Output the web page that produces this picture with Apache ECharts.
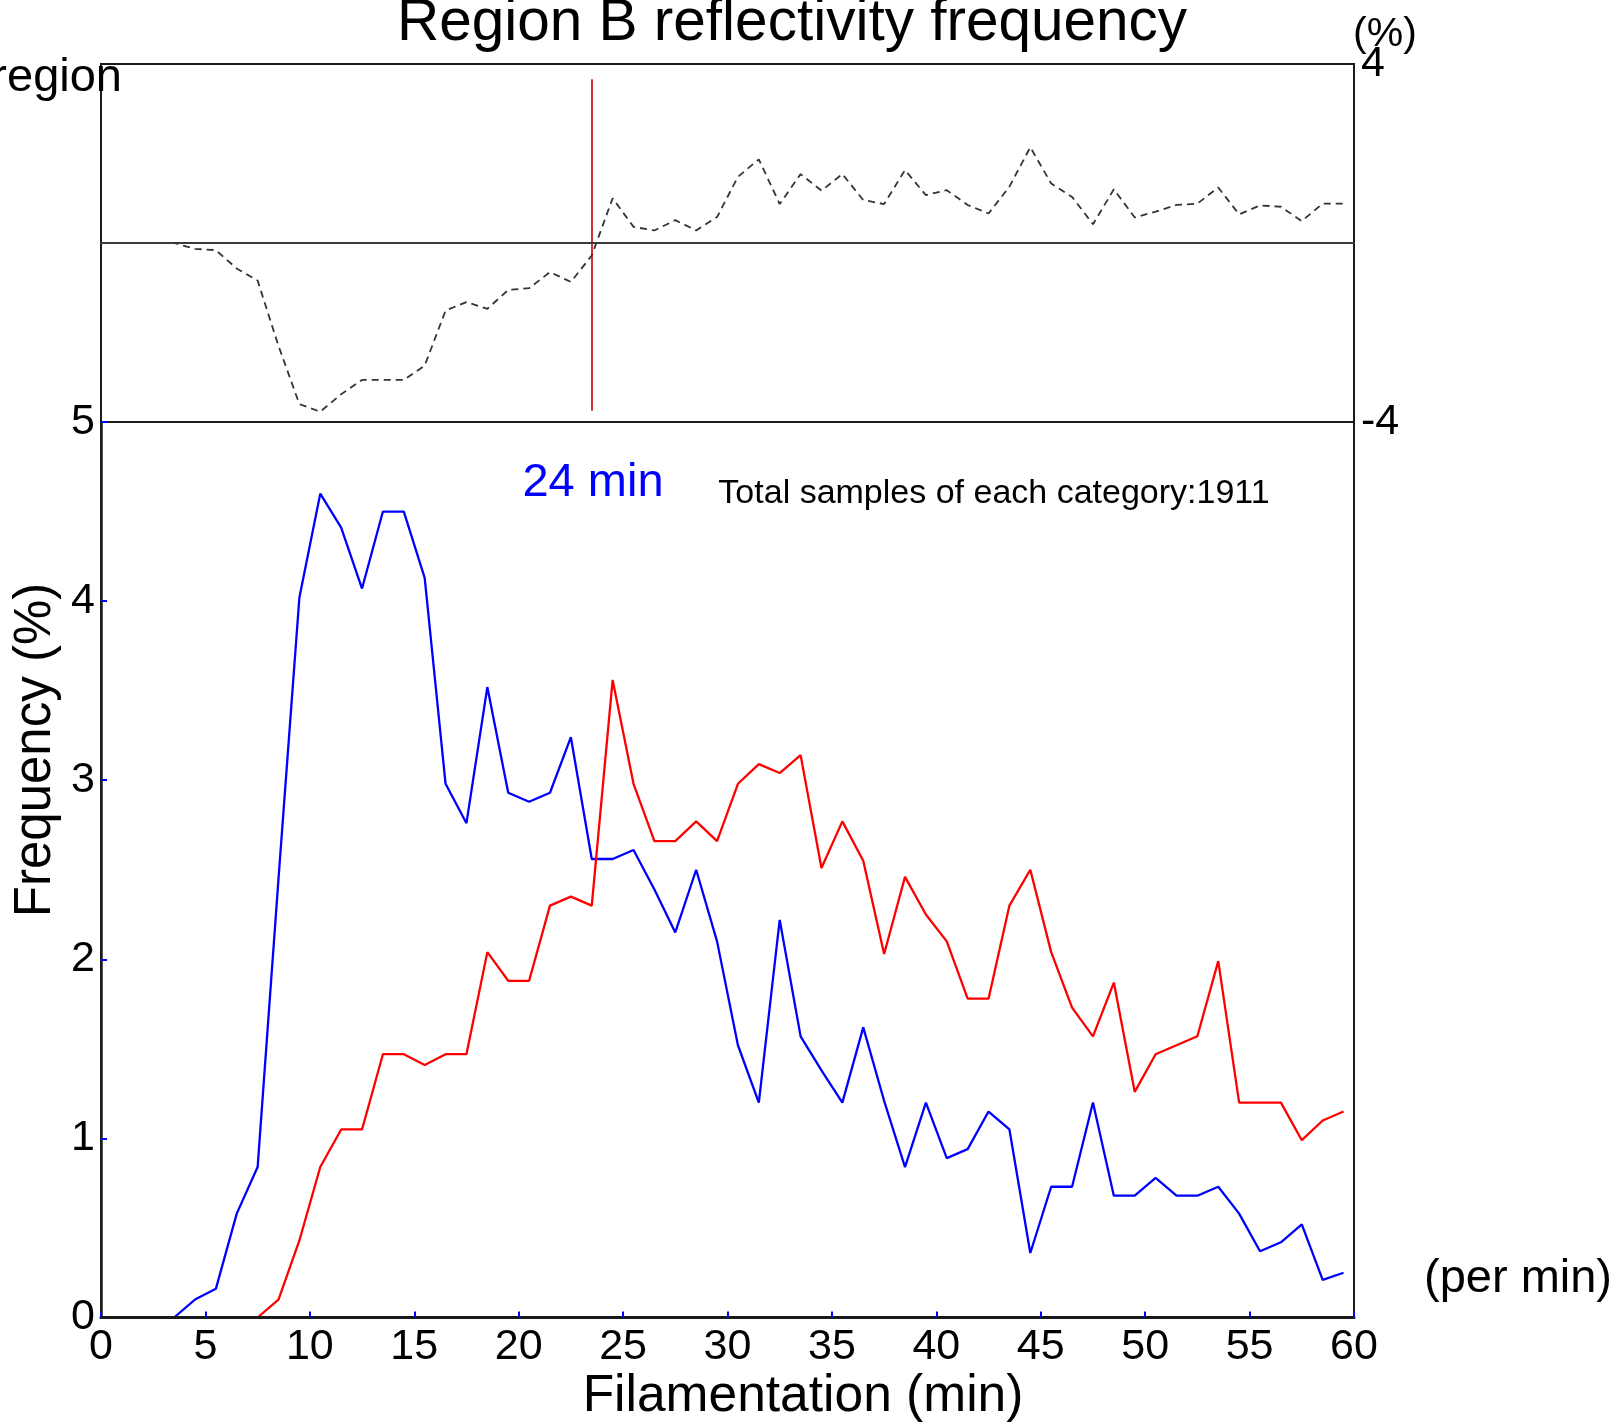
<!DOCTYPE html>
<html>
<head>
<meta charset="utf-8">
<title>Region B reflectivity frequency</title>
<script src="https://cdn.jsdelivr.net/npm/echarts@6/dist/echarts.min.js"></script>
<style>
  html, body { margin: 0; padding: 0; background: #ffffff; }
  #chart { width: 1618px; height: 1424px; }
</style>
</head>
<body>
<div id="chart"></div>
<script>
// Filamentation time bins (minutes 1..60), plotted at bin centres
const minutes = Array.from({ length: 60 }, (_, i) => i + 1);
const binCenters = minutes.map(m => m - 0.5);

// Frequency (%) per minute bin, blue category
const blueFreq = [0, 0, 0, 0, 0.10, 0.16, 0.58, 0.84, 2.45, 4.02,
  4.60, 4.41, 4.07, 4.50, 4.50, 4.13, 2.98, 2.76, 3.52, 2.93,
  2.88, 2.93, 3.24, 2.56, 2.56, 2.61, 2.39, 2.15, 2.50, 2.10,
  1.52, 1.20, 2.22, 1.57, 1.38, 1.20, 1.62, 1.21, 0.84, 1.20,
  0.89, 0.94, 1.15, 1.05, 0.36, 0.73, 0.73, 1.20, 0.68, 0.68,
  0.78, 0.68, 0.68, 0.73, 0.58, 0.37, 0.42, 0.52, 0.21, 0.25];

// Frequency (%) per minute bin, red category
const redFreq = [0, 0, 0, 0, 0, 0, 0, 0, 0.10, 0.43,
  0.84, 1.05, 1.05, 1.47, 1.47, 1.41, 1.47, 1.47, 2.04, 1.88,
  1.88, 2.30, 2.35, 2.30, 3.56, 2.98, 2.66, 2.66, 2.77, 2.66,
  2.98, 3.09, 3.04, 3.14, 2.51, 2.77, 2.55, 2.03, 2.46, 2.25,
  2.10, 1.78, 1.78, 2.30, 2.50, 2.04, 1.73, 1.57, 1.87, 1.26,
  1.47, 1.52, 1.57, 1.99, 1.20, 1.20, 1.20, 0.99, 1.10, 1.15];

// Difference curve (%) shown in the upper panel
const diffPct = [0, 0, 0, 0, -0.13, -0.16, -0.57, -0.84, -2.30, -3.60,
  -3.77, -3.38, -3.06, -3.06, -3.06, -2.74, -1.51, -1.32, -1.47, -1.05,
  -1.01, -0.65, -0.87, -0.28, 1.00, 0.36, 0.28, 0.51, 0.28, 0.58,
  1.48, 1.87, 0.87, 1.54, 1.17, 1.54, 0.96, 0.87, 1.63, 1.07,
  1.18, 0.85, 0.66, 1.26, 2.14, 1.33, 1.03, 0.42, 1.20, 0.57,
  0.70, 0.85, 0.88, 1.24, 0.64, 0.84, 0.81, 0.49, 0.88, 0.88];

// Crossover time and the vertical extent of its marker in the upper panel
const crossMinute = 24;
const crossX = crossMinute - 0.5;
const crossSpan = [3.66, -3.75];

const xTicks = { min: 0, max: 60, interval: 5 };
const freqTicks = { min: 0, max: 5, interval: 1 };
const diffTicks = { min: -4, max: 4, interval: 4 };

const FONT = '"Liberation Sans", Arial, Helvetica, sans-serif';
const BLUE = '#0000ff';
const RED = '#ff0000';
const FRAME = '#1a1a1a';
const TICK_FONT = 43;

const chart = echarts.init(document.getElementById('chart'), null, { renderer: 'canvas' });

const pairs = arr => binCenters.map((x, i) => [x, arr[i]]);

const option = {
  animation: false,
  backgroundColor: '#ffffff',
  grid: [
    { left: 101, width: 1253, top: 64, height: 358, show: true,
      borderColor: FRAME, borderWidth: 2, backgroundColor: 'transparent' },
    { left: 101, width: 1253, top: 422, height: 895.5, show: true,
      borderColor: FRAME, borderWidth: 2, backgroundColor: 'transparent' }
  ],
  xAxis: [
    { gridIndex: 0, type: 'value', min: xTicks.min, max: xTicks.max, interval: xTicks.interval,
      z: 5,
      axisLine: { show: true, onZero: true, onZeroAxisIndex: 0, lineStyle: { color: '#3a3a3a', width: 2 } },
      axisTick: { show: false }, axisLabel: { show: false }, splitLine: { show: false } },
    { gridIndex: 1, type: 'value', min: xTicks.min, max: xTicks.max, interval: xTicks.interval,
      z: 5,
      axisLine: { show: true, onZero: false, lineStyle: { color: FRAME, width: 3 } },
      axisTick: { show: true, inside: true, length: 6, lineStyle: { color: BLUE, width: 2 } },
      axisLabel: { color: '#000', fontSize: TICK_FONT, fontFamily: FONT, margin: 8 },
      splitLine: { show: false } }
  ],
  yAxis: [
    { gridIndex: 0, type: 'value', position: 'left',
      min: diffTicks.min, max: diffTicks.max, interval: diffTicks.interval,
      axisLine: { show: true, onZero: false, lineStyle: { color: FRAME, width: 2 } },
      axisTick: { show: true, inside: true, length: 6, customValues: [0], lineStyle: { color: BLUE, width: 2 } },
      axisLabel: { show: false }, splitLine: { show: false } },
    { gridIndex: 0, type: 'value', position: 'right',
      min: diffTicks.min, max: diffTicks.max, interval: diffTicks.interval,
      axisLine: { show: true, onZero: false, lineStyle: { color: FRAME, width: 2 } },
      axisTick: { show: false },
      axisLabel: { color: '#000', fontSize: TICK_FONT, fontFamily: FONT, margin: 7,
        formatter: v => (v === 0 ? '' : String(v)) },
      splitLine: { show: false } },
    { gridIndex: 1, type: 'value', position: 'left',
      min: freqTicks.min, max: freqTicks.max, interval: freqTicks.interval,
      axisLine: { show: true, onZero: false, lineStyle: { color: FRAME, width: 2.5 } },
      axisTick: { show: true, inside: true, length: 6, lineStyle: { color: BLUE, width: 2 } },
      axisLabel: { color: '#000', fontSize: TICK_FONT, fontFamily: FONT, margin: 6 },
      splitLine: { show: false } }
  ],
  series: [
    { name: 'difference', type: 'line', xAxisIndex: 0, yAxisIndex: 0,
      data: pairs(diffPct), symbol: 'none', z: 1,
      lineStyle: { color: '#333', width: 1.8, type: [7, 5] },
      markLine: {
        silent: true, symbol: 'none', label: { show: false },
        lineStyle: { color: '#c00000', width: 1.6, type: 'solid' },
        data: [[{ coord: [crossX, crossSpan[0]] }, { coord: [crossX, crossSpan[1]] }]]
      } },
    { name: 'blue', type: 'line', xAxisIndex: 1, yAxisIndex: 2,
      data: pairs(blueFreq), symbol: 'none', z: 2,
      lineStyle: { color: BLUE, width: 2.3 } },
    { name: 'red', type: 'line', xAxisIndex: 1, yAxisIndex: 2,
      data: pairs(redFreq), symbol: 'none', z: 2,
      lineStyle: { color: RED, width: 2.3 } }
  ],
  graphic: [
    { type: 'text', x: 792, y: 24, z: 10,
      style: { text: 'Region B reflectivity frequency', fontSize: 58.5, fontFamily: FONT,
        fill: '#000', align: 'center', verticalAlign: 'middle' } },
    { type: 'text', x: 122, y: 78, z: 10,
      style: { text: 'region', fontSize: 47, fontFamily: FONT, fill: '#000',
        align: 'right', verticalAlign: 'middle' } },
    { type: 'text', x: 1385, y: 35, z: 10,
      style: { text: '(%)', fontSize: 41, fontFamily: FONT, fill: '#000',
        align: 'center', verticalAlign: 'middle' } },
    { type: 'text', x: 593, y: 483, z: 10,
      style: { text: crossMinute + ' min', fontSize: 47, fontFamily: FONT, fill: BLUE,
        align: 'center', verticalAlign: 'middle' } },
    { type: 'text', x: 994, y: 494, z: 10,
      style: { text: 'Total samples of each category:1911', fontSize: 34, fontFamily: FONT,
        fill: '#000', align: 'center', verticalAlign: 'middle' } },
    { type: 'text', x: 36, y: 750, rotation: Math.PI / 2, z: 10,
      style: { text: 'Frequency (%)', fontSize: 51, fontFamily: FONT, fill: '#000',
        align: 'center', verticalAlign: 'middle' } },
    { type: 'text', x: 803, y: 1397, z: 10,
      style: { text: 'Filamentation (min)', fontSize: 51.5, fontFamily: FONT, fill: '#000',
        align: 'center', verticalAlign: 'middle' } },
    { type: 'text', x: 1518, y: 1279, z: 10,
      style: { text: '(per min)', fontSize: 47, fontFamily: FONT, fill: '#000',
        align: 'center', verticalAlign: 'middle' } }
  ]
};

chart.setOption(option);
</script>
</body>
</html>
